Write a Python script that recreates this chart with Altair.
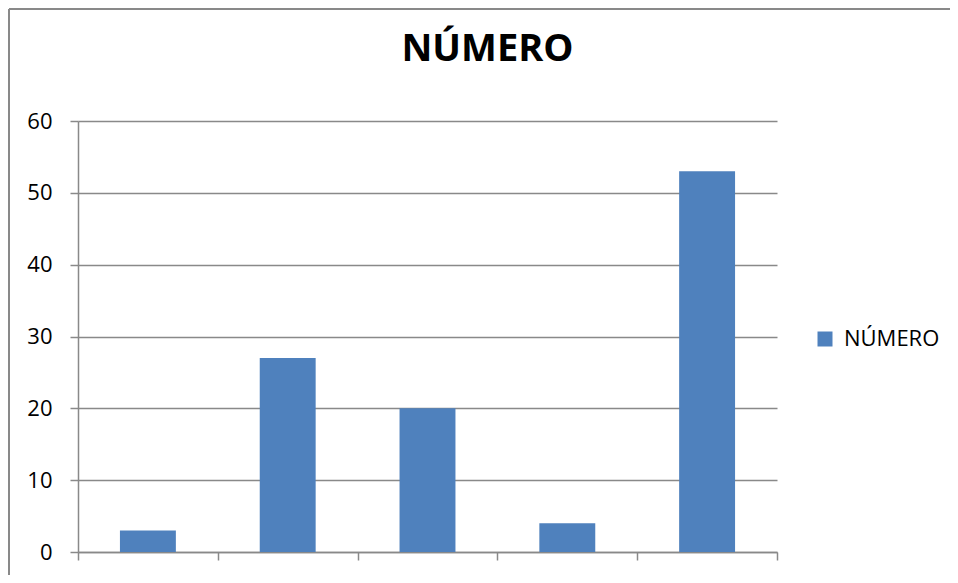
import altair as alt
import pandas as pd

categories = ["1", "2", "3", "4", "5"]
values = [3, 27, 20, 4, 53]
series_name = "NÚMERO"
y_ticks = [0, 10, 20, 30, 40, 50, 60]

df = pd.DataFrame({"cat": categories, "value": values, "series": [series_name] * len(values)})

GRID = "#898989"
BLUE = "#4F81BD"
W, H = 699, 431

bars = alt.Chart(df).mark_bar(width=alt.RelativeBandSize(0.4), color=BLUE).encode(
    x=alt.X("cat:N", sort=categories, title=None,
            scale=alt.Scale(paddingInner=0, paddingOuter=0),
            axis=alt.Axis(labels=False, tickBand="extent", ticks=True, tickSize=8,
                          tickColor=GRID, tickWidth=1.5, domainColor=GRID, domainWidth=1.5,
                          grid=False)),
    y=alt.Y("value:Q", title=None,
            scale=alt.Scale(domain=[0, 60], nice=False),
            axis=alt.Axis(values=y_ticks, tickSize=8, tickColor=GRID, tickWidth=1.5,
                          domainColor=GRID, domainWidth=1.5, gridColor=GRID, gridWidth=1.5,
                          labelFont="Open Sans", labelFontSize=22, labelColor="#000000",
                          labelPadding=18)),
    color=alt.Color("series:N", title=None,
                    scale=alt.Scale(domain=[series_name], range=[BLUE]),
                    legend=alt.Legend(orient="none", legendX=736, legendY=207,
                                      symbolType="square", symbolSize=225,
                                      symbolStrokeWidth=0, symbolOffset=0,
                                      labelFont="Open Sans", labelFontSize=22,
                                      labelColor="#000000", labelOffset=8, padding=0)),
)

top_border = alt.Chart(df).mark_rule(stroke=GRID, strokeWidth=2).encode(
    x=alt.value(-69), x2=alt.value(W + 400), y=alt.value(-112)
)
left_border = alt.Chart(df).mark_rule(stroke=GRID, strokeWidth=2).encode(
    x=alt.value(-69), y=alt.value(-112), y2=alt.value(H + 400)
)

chart = alt.layer(top_border, left_border, bars).properties(
    width=W, height=H,
    title=alt.Title(series_name, font="Open Sans", fontSize=38, fontWeight="bold",
                    color="#000000", anchor="middle", frame="group", dx=60, offset=0,
                    dy=91, baseline="alphabetic"),
    autosize=alt.AutoSizeParams(type="none"),
    padding={"left": 70, "top": 113, "right": 173, "bottom": 23},
).configure_view(stroke=None)

chart.save("out.html", embed_options={"renderer": "svg", "actions": False})
